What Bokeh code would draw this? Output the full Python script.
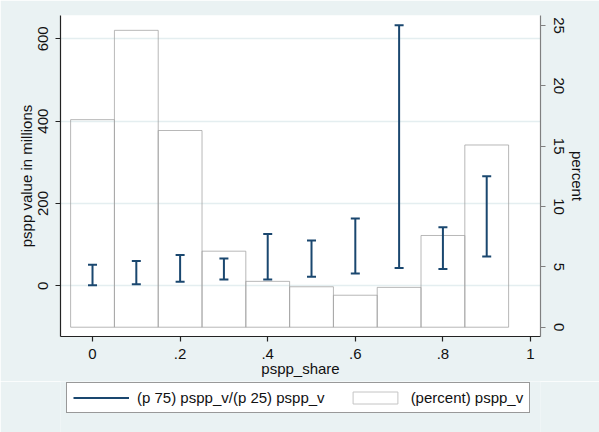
from bokeh.plotting import figure
from bokeh.layouts import column
from bokeh.models import (Range1d, LinearAxis, FixedTicker, Whisker, TeeHead,
                          ColumnDataSource, Legend, LegendItem, CustomJSTickFormatter)
from bokeh.embed import file_html
from bokeh.resources import INLINE

# ---- data ----
share = [0.0, 0.1, 0.2, 0.3, 0.4, 0.5, 0.6, 0.7, 0.8, 0.9]
pct = [17.2, 24.6, 16.3, 6.3, 3.8, 3.35, 2.65, 3.3, 7.6, 15.1]
p25 = [1.5, 4.0, 10.0, 15.0, 15.0, 22.0, 30.0, 43.0, 41.0, 71.0]
p75 = [51.0, 60.0, 75.0, 66.0, 126.0, 110.0, 163.5, 633.0, 142.0, 266.0]
x_ticks = [0, 0.2, 0.4, 0.6, 0.8, 1.0]
left_ticks = [0, 200, 400, 600]
right_ticks = [0, 5, 10, 15, 20, 25]
bar_width = 0.1
legend_labels = ["(p 75) pspp_v/(p 25) pspp_v", "(percent) pspp_v"]

NAVY = "#1a476f"
BG = "#eaf2f3"
FONT = "Liberation Sans"
FS = "15px"

p = figure(frame_width=480, frame_height=321, output_backend="svg", toolbar_location=None,
           x_range=Range1d(-0.0731, 1.0228), y_range=Range1d(-123.2, 656.6),
           min_border_left=60, min_border_right=59, min_border_top=15,
           min_border_bottom=45, background_fill_color="white",
           border_fill_color=BG, outline_line_color=None)
p.extra_y_ranges = {"pct": Range1d(-0.77, 25.83)}

# grid
p.xgrid.visible = False
p.ygrid.ticker = FixedTicker(ticks=left_ticks)
p.ygrid.grid_line_color = "#e4eef0"
p.ygrid.grid_line_width = 1.5

# bars (percent, right axis)
src_b = ColumnDataSource(dict(x=share, top=pct))
bars = p.vbar(x="x", width=bar_width, top="top", bottom=0, source=src_b,
              y_range_name="pct", fill_color=None, line_color="#a0a0a0",
              line_alpha=0.75, line_width=1)

# interquartile ranges (left axis)
src_e = ColumnDataSource(dict(x=share, lower=p25, upper=p75))
seg = p.segment(x0="x", y0="lower", x1="x", y1="upper", source=src_e,
                line_color=NAVY, line_width=2)
w = Whisker(source=src_e, base="x", lower="lower", upper="upper",
            dimension="height", line_alpha=0, level="annotation",
            upper_head=TeeHead(size=9, line_color=NAVY, line_width=2),
            lower_head=TeeHead(size=9, line_color=NAVY, line_width=2))
p.add_layout(w)

def style_axis(ax, line_color="#222222"):
    ax.axis_line_color = line_color
    ax.axis_line_width = 1.2
    ax.major_tick_line_color = line_color
    ax.major_tick_line_width = 1.2
    ax.major_tick_out = 5
    ax.major_tick_in = 0
    ax.minor_tick_line_color = None
    ax.major_label_text_font = FONT
    ax.major_label_text_font_size = FS
    ax.major_label_text_color = "#111111"
    ax.axis_label_text_font = FONT
    ax.axis_label_text_font_size = FS
    ax.axis_label_text_font_style = "normal"
    ax.axis_label_text_color = "#111111"

# x axis
xa = p.xaxis[0]
style_axis(xa)
xa.ticker = FixedTicker(ticks=x_ticks)
xa.formatter = CustomJSTickFormatter(code="""
    if (Math.abs(tick) < 1e-9) return '0';
    if (Math.abs(tick - 1) < 1e-9) return '1';
    return tick.toFixed(1).replace(/^0/, '');
""")
xa.axis_label = "pspp_share"
xa.major_label_standoff = 7
xa.axis_label_standoff = -2

# left axis
ya = p.yaxis[0]
style_axis(ya)
ya.ticker = FixedTicker(ticks=left_ticks)
ya.major_label_orientation = "vertical"
ya.axis_label = "pspp value in millions"
ya.major_label_standoff = 7
ya.axis_label_standoff = 1

# right axis
ra = LinearAxis(y_range_name="pct", ticker=FixedTicker(ticks=right_ticks))
style_axis(ra, "#808080")
ra.major_label_orientation = "vertical"
ra.axis_label = "percent"
ra.major_label_standoff = 8
ra.axis_label_standoff = 2
p.add_layout(ra, "right")

# ---- legend strip (separate figure below the chart) ----
# legend renderers share the chart's data but lie outside this strip's y range
leg = figure(width=599, height=51, output_backend="svg", toolbar_location=None,
             x_range=Range1d(0, 1), y_range=Range1d(5000, 6000),
             x_axis_location=None, y_axis_location=None, min_border=0,
             background_fill_color=BG, border_fill_color=BG, outline_line_color=None)
leg.grid.visible = False
r1 = leg.segment(x0="x", y0="lower", x1="x", y1="upper", source=src_e,
                 line_color=NAVY, line_width=2)
r2 = leg.vbar(x="x", width=bar_width, top="top", bottom=0, source=src_b,
              fill_color="white", line_color="#c4c4c4")
legend = Legend(items=[LegendItem(label=legend_labels[0], renderers=[r1]),
                       LegendItem(label=legend_labels[1], renderers=[r2])],
                orientation="horizontal", location=(6, 19),
                border_line_color="#333333", border_line_width=1,
                background_fill_color="white", background_fill_alpha=1,
                label_text_font=FONT, label_text_font_size=FS,
                label_text_color="#111111",
                glyph_width=56, glyph_height=15, label_standoff=8,
                spacing=22, padding=6, margin=0, label_height=16)
leg.add_layout(legend, "center")

layout = column(p, leg, spacing=0)
open("out.html", "w").write(file_html(layout, INLINE))
